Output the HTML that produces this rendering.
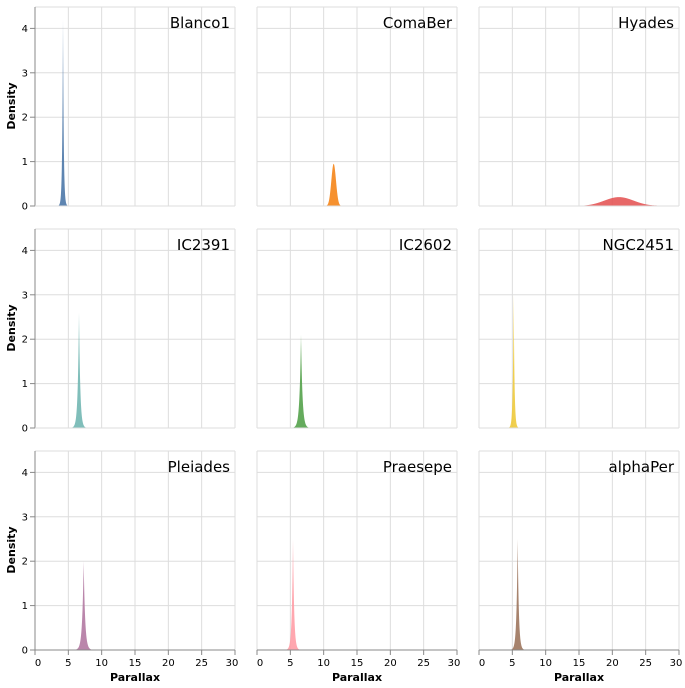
<!DOCTYPE html><html><head><style>body{margin:0;background:#fff}svg{display:block}</style></head><body>
<svg id="s" width="685" height="688" xmlns="http://www.w3.org/2000/svg" font-family="DejaVu Sans, Liberation Sans, sans-serif"></svg>
<script>
const s=document.getElementById('s');let h='';
const cols=[35,257,479],rows=[206,428,650];
const data=[["Blanco1","#4c78a8",4.2,4.2,0.18],["ComaBer","#f58518",11.5,0.95,0.45],["Hyades","#e45756",21,0.2,2.2],
["IC2391","#72b7b2",6.6,2.6,0.3],["IC2602","#54a24b",6.6,2.1,0.35],["NGC2451","#eeca3b",5.2,3.0,0.2],
["Pleiades","#b279a2",7.3,2.0,0.35],["Praesepe","#ff9da6",5.4,2.5,0.28],["alphaPer","#9d755d",5.8,2.5,0.28]];
const ky=44.4,kx=200/30;
data.forEach((d,i)=>{const x0=cols[i%3],y0=rows[Math.floor(i/3)],top=y0-199;
for(let g=0;g<=30;g+=5){const x=x0+g*kx;h+=`<line x1="${x}" y1="${top}" x2="${x}" y2="${y0}" stroke="#ddd"/>`;}
for(let g=0;g<=4;g++){const y=y0-g*ky;h+=`<line x1="${x0}" y1="${y}" x2="${x0+200}" y2="${y}" stroke="#ddd"/>`;}
h+=`<line x1="${x0}" y1="${top}" x2="${x0+200}" y2="${top}" stroke="#ddd"/><line x1="${x0+200}" y1="${top}" x2="${x0+200}" y2="${y0}" stroke="#ddd"/>`;
let p=`M${x0},${y0}`;for(let v=0;v<=30;v+=0.02){let z=(v-d[2])/d[4];let dens=(i==2?d[3]*(Math.exp(-z*z/2)+0.05*Math.exp(-Math.pow((v-28)/1.2,2)/2)):i==1?d[3]*Math.exp(-z*z/1.2):d[3]*Math.exp(-Math.abs(z)*1.6));p+=`L${(x0+v*kx).toFixed(2)},${(y0-dens*ky).toFixed(2)}`;}
p+=`L${x0+200},${y0}Z`;h+=`<path d="${p}" fill="${d[1]}" fill-opacity="0.9"/>`;
h+=`<text x="${x0+195}" y="${top+21}" text-anchor="end" font-size="15" fill="#000">${d[0]}</text>`;
if(i%3==0){h+=`<line x1="${x0}" y1="${top}" x2="${x0}" y2="${y0}" stroke="#888"/>`;
for(let g=0;g<=4;g++){const y=y0-g*ky;h+=`<line x1="${x0-5}" y1="${y}" x2="${x0}" y2="${y}" stroke="#888"/><text x="${x0-7}" y="${y+3.5}" text-anchor="end" font-size="10">${g}</text>`;}
h+=`<text transform="translate(15,${y0-100}) rotate(-90)" text-anchor="middle" font-size="11" font-weight="bold">Density</text>`;}
else h+=`<line x1="${x0}" y1="${top}" x2="${x0}" y2="${y0}" stroke="#ddd"/>`;
if(i>=6){h+=`<line x1="${x0}" y1="${y0}" x2="${x0+200}" y2="${y0}" stroke="#888"/>`;
for(let g=0;g<=30;g+=5){const x=x0+g*kx;h+=`<line x1="${x}" y1="${y0}" x2="${x}" y2="${y0+5}" stroke="#888"/><text x="${x+(g==0?3:g==30?-3:0)}" y="${y0+16}" text-anchor="middle" font-size="10">${g}</text>`;}
h+=`<text x="${x0+100}" y="${y0+31}" text-anchor="middle" font-size="11" font-weight="bold">Parallax</text>`;}
else h+=`<line x1="${x0}" y1="${y0}" x2="${x0+200}" y2="${y0}" stroke="#ddd"/>`;
});
s.innerHTML=h;
</script></body></html>
